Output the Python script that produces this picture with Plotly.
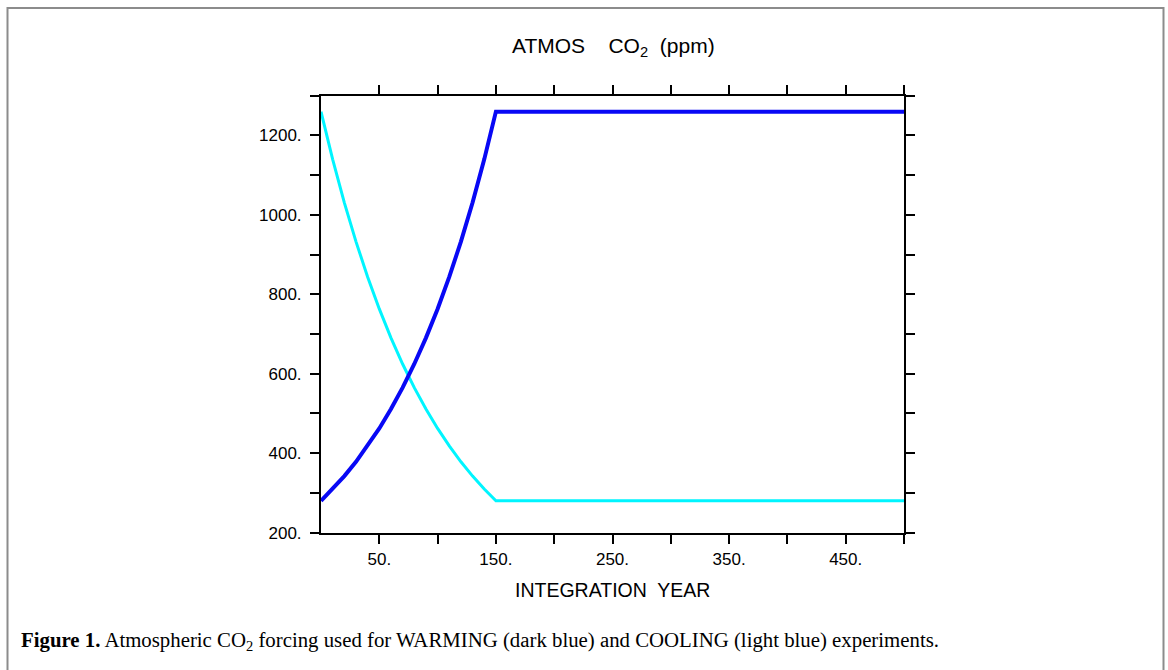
import plotly.graph_objects as go

# ---- data ----
years = [0, 10, 20, 30, 40, 50, 60, 70, 80, 90, 100, 110, 120, 130, 140, 150, 500]
warming = [280, 309.5, 342.2, 378.3, 418.2, 462.3, 511.0, 564.9, 624.5, 690.3,
           763.2, 843.7, 932.7, 1031.0, 1139.8, 1260, 1260]
cooling = [1260, 1139.8, 1031.0, 932.7, 843.7, 763.2, 690.3, 624.5, 564.9, 511.0,
           462.3, 418.2, 378.3, 342.2, 309.5, 280, 280]

x_tickvals = [50, 100, 150, 200, 250, 300, 350, 400, 450, 500]
x_labels = ["50.", "", "150.", "", "250.", "", "350.", "", "450.", ""]
y_tickvals = [200, 300, 400, 500, 600, 700, 800, 900, 1000, 1100, 1200, 1300]
y_labels = ["200.", "", "400.", "", "600.", "", "800.", "", "1000.", "", "1200.", ""]

W, H = 1168, 670
def px(x):
    return x / W
def py(y):
    y = (y + 1.4) / 0.9866  # compensate vertical compression seen in the rendered page
    return 1 - y / H

sans = "Liberation Sans, Arial, Helvetica, sans-serif"
serif = "Liberation Serif, Times New Roman, serif"

fig = go.Figure()
fig.add_trace(go.Scatter(x=years, y=cooling, mode="lines",
                         line=dict(color="#00F5FF", width=3), showlegend=False))
fig.add_trace(go.Scatter(x=years, y=warming, mode="lines",
                         line=dict(color="#0808F5", width=4), showlegend=False))

axis_common = dict(showgrid=False, zeroline=False, showline=True, linecolor="black",
                   linewidth=2, ticks="outside", ticklen=9, tickwidth=2, tickcolor="black")

x0, x1 = px(321), px(904)
y0, y1 = py(532), py(94.5)

fig.update_layout(
    width=W, height=H,
    margin=dict(l=0, r=0, t=0, b=0),
    paper_bgcolor="white", plot_bgcolor="white",
    xaxis=dict(domain=[x0, x1], range=[0, 500], tickvals=x_tickvals, ticktext=x_labels,
               tickfont=dict(family=sans, size=17, color="black"), ticklabelstandoff=1,
               **axis_common),
    xaxis2=dict(domain=[x0, x1], range=[0, 500], tickvals=x_tickvals,
                overlaying="x", side="top", anchor="y", showticklabels=False, **axis_common),
    yaxis=dict(domain=[y0, y1], range=[200, 1300], tickvals=y_tickvals, ticktext=y_labels,
               tickfont=dict(family=sans, size=17, color="black"), ticklabelstandoff=5,
               **axis_common),
    yaxis2=dict(domain=[y0, y1], range=[200, 1300], tickvals=y_tickvals,
                overlaying="y", side="right", anchor="x", showticklabels=False, **axis_common),
)
# dummy trace to activate secondary axes
fig.add_trace(go.Scatter(x=[None], y=[None], xaxis="x2", yaxis="y2", showlegend=False,
                         hoverinfo="skip"))

# border around the figure
fig.add_shape(type="rect", xref="paper", yref="paper",
              x0=px(7.5), x1=px(1163.5), y0=-0.1, y1=py(6.5),
              line=dict(color="#8c8c8c", width=2), fillcolor="rgba(0,0,0,0)", layer="below")

# title
fig.add_annotation(xref="paper", yref="paper", x=px(613), y=py(46),
                   text="ATMOS    CO<sub>2</sub>  (ppm)", showarrow=False,
                   font=dict(family=sans, size=21, color="black"), xanchor="center", yanchor="middle")
# x-axis title
fig.add_annotation(xref="paper", yref="paper", x=px(612), y=py(590),
                   text="INTEGRATION  YEAR", showarrow=False,
                   font=dict(family=sans, size=19.5, color="black"), xanchor="center", yanchor="middle")
# caption
fig.add_annotation(xref="paper", yref="paper", x=px(19), y=py(641),
                   text="<b>Figure 1.</b> Atmospheric CO<sub>2</sub> forcing used for WARMING (dark blue) and COOLING (light blue) experiments.",
                   showarrow=False, font=dict(family=serif, size=20.8, color="black"),
                   xanchor="left", yanchor="middle")

post = """
document.documentElement.style.margin='0';
document.body.style.margin='0';
document.documentElement.style.overflow='hidden';
document.body.style.overflow='hidden';
var d=document.getElementsByClassName('plotly-graph-div')[0];
d.style.position='absolute'; d.style.top='0px'; d.style.left='0px';
"""
fig.write_html("out.html", post_script=post, config={"displayModeBar": False})
